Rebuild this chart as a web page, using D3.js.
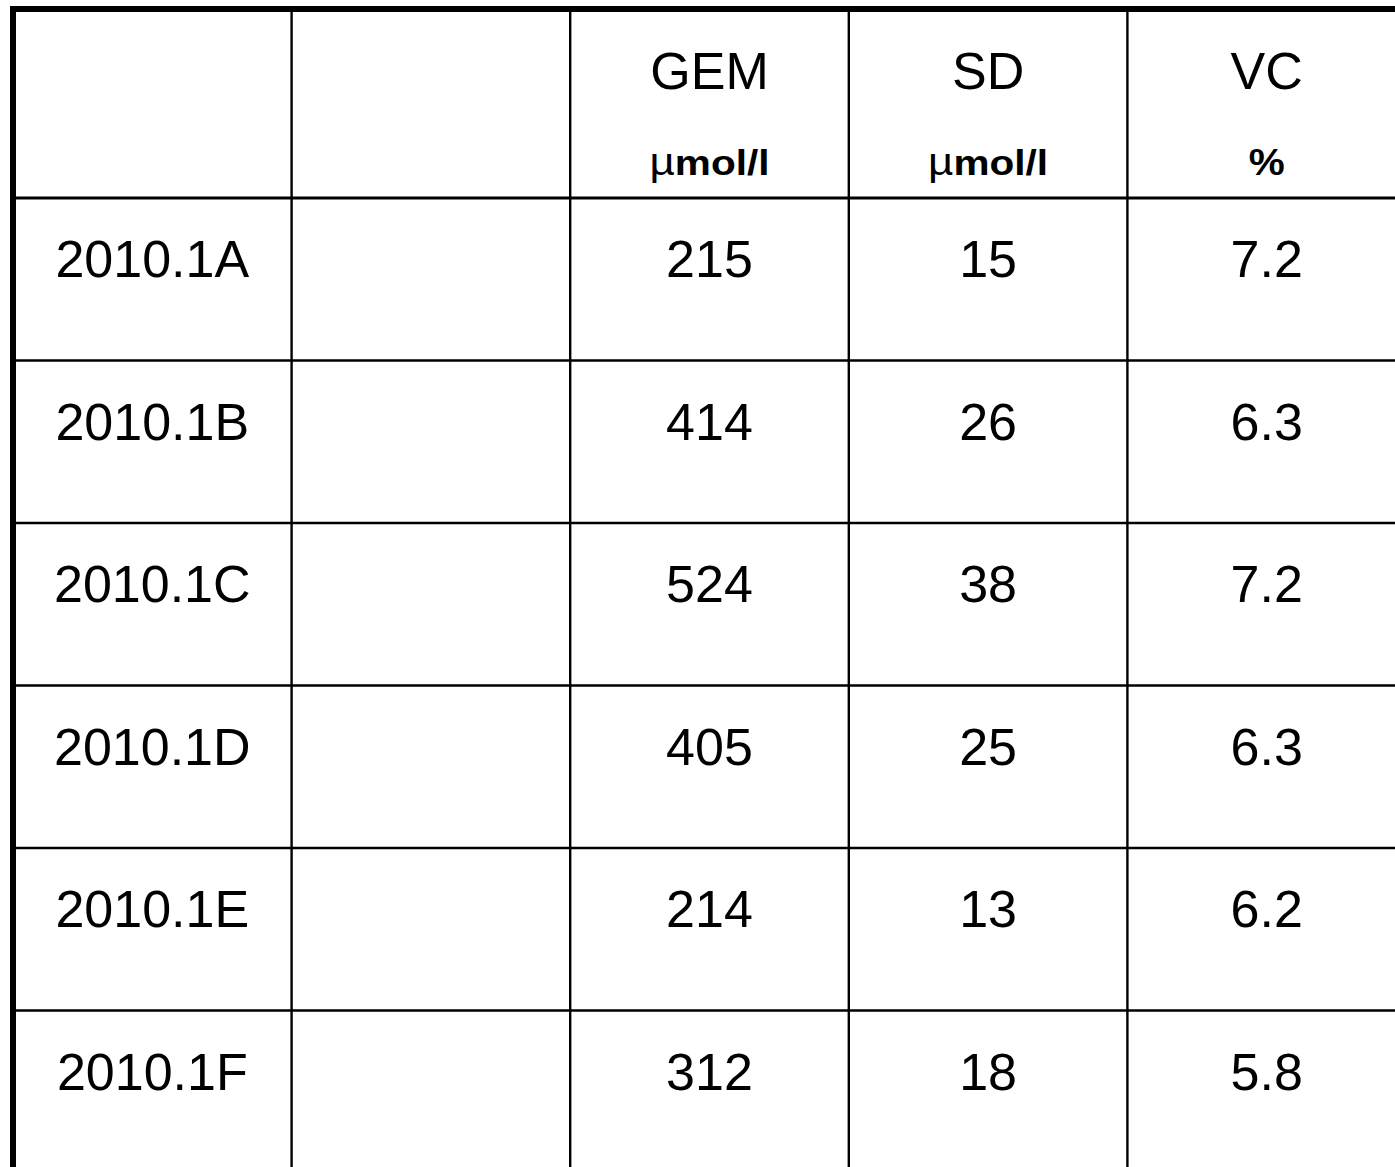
<!DOCTYPE html>
<html>
<head>
<meta charset="utf-8">
<script src="https://cdn.jsdelivr.net/npm/d3@7"></script>
<style>
  html, body { margin: 0; padding: 0; background: #fff; }
  svg { display: block; }
</style>
</head>
<body>
<script>
const samples = ["2010.1A", "2010.1B", "2010.1C", "2010.1D", "2010.1E", "2010.1F"];
const gem = ["215", "414", "524", "405", "214", "312"];
const sd = ["15", "26", "38", "25", "13", "18"];
const vc = ["7.2", "6.3", "7.2", "6.3", "6.2", "5.8"];
const headers = ["", "", "GEM", "SD", "VC"];
const units = ["", "", "µmol/l", "µmol/l", "%"];

const W = 1395, H = 1167;
const svg = d3.select("body").append("svg").attr("width", W).attr("height", H);
svg.append("rect").attr("width", W).attr("height", H).attr("fill", "#fff");

const font = "'Liberation Sans', Arial, sans-serif";
// column boundaries
const x = d3.scaleLinear().domain([0, 5]).range([13, 13 + 5 * 278.6]);
// row boundaries (data rows)
const y = d3.scaleLinear().domain([0, 6]).range([198, 198 + 6 * 162.5]);

// vertical grid lines
svg.selectAll("line.v").data([1, 2, 3, 4]).enter().append("line")
  .attr("x1", d => x(d)).attr("x2", d => x(d))
  .attr("y1", 12).attr("y2", H)
  .attr("stroke", "#000").attr("stroke-width", 2.4);

// horizontal grid lines
svg.selectAll("line.h").data(d3.range(6)).enter().append("line")
  .attr("x1", 16).attr("x2", W)
  .attr("y1", d => y(d)).attr("y2", d => y(d))
  .attr("stroke", "#000").attr("stroke-width", d => d === 0 ? 2.8 : 2.4);

// thick top and left borders
svg.append("rect").attr("x", 10).attr("y", 6).attr("width", W - 10).attr("height", 6).attr("fill", "#000");
svg.append("rect").attr("x", 10).attr("y", 6).attr("width", 6).attr("height", H - 6).attr("fill", "#000");

const cx = i => (x(i) + x(i + 1)) / 2;

// header
headers.forEach((h, i) => {
  if (!h) return;
  svg.append("text").attr("x", cx(i)).attr("y", 89)
    .attr("text-anchor", "middle").attr("font-family", font).attr("font-size", 52)
    .attr("fill", "#000").text(h);
});
units.forEach((u, i) => {
  if (!u) return;
  const t = svg.append("text").attr("x", cx(i)).attr("y", 175)
    .attr("text-anchor", "middle").attr("font-family", font).attr("font-size", 35)
    .attr("font-weight", "bold").attr("fill", "#000");
  if (u.startsWith("µ")) {
    t.append("tspan").attr("font-weight", "normal").attr("font-size", 38).text("µ");
    t.append("tspan").text(u.slice(1));
    t.attr("textLength", 120).attr("lengthAdjust", "spacingAndGlyphs");
  } else {
    t.attr("font-size", 36).text(u);
    t.attr("textLength", 36).attr("lengthAdjust", "spacingAndGlyphs");
  }
});

// data cells
const cols = [samples, null, gem, sd, vc];
cols.forEach((arr, ci) => {
  if (!arr) return;
  svg.selectAll(null).data(arr).enter().append("text")
    .attr("x", cx(ci)).attr("y", (d, ri) => y(ri) + 79)
    .attr("text-anchor", "middle").attr("font-family", font).attr("font-size", 52)
    .attr("fill", "#000").text(d => d);
});
</script>
</body>
</html>
